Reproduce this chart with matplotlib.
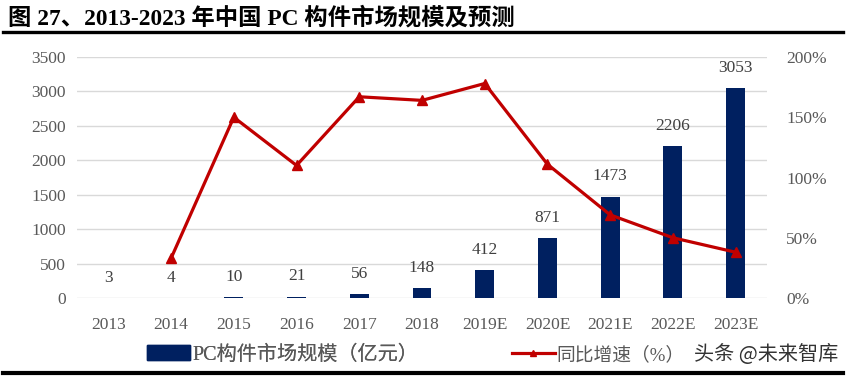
import numpy as np
import matplotlib.pyplot as plt
from matplotlib.lines import Line2D

plt.rcParams['font.family'] = ['Liberation Serif', 'Noto Sans CJK SC', 'DejaVu Sans']

# 数据
years = ['2013', '2014', '2015', '2016', '2017', '2018', '2019E', '2020E', '2021E', '2022E', '2023E']
scale = [3, 4, 10, 21, 56, 148, 412, 871, 1473, 2206, 3053]  # 亿元
growth = [None, 33, 150, 110, 167, 164, 178, 111, 69, 50, 38]  # %

navy = '#002060'
red = '#C00000'
gray = '#595959'

fig = plt.figure(figsize=(8.46, 3.76), dpi=100)
ax = fig.add_axes([0.091, 0.2074, 0.8156, 0.641])
x = np.arange(len(years))

ax.bar(x, scale, width=0.3, color=navy, zorder=2)
for xi, v in zip(x, scale):
    ax.annotate(str(v), (xi, v), xytext=(0, 14.5), textcoords='offset points',
                ha='center', va='center', fontsize=12.5, color='#404040')

ax.set_ylim(0, 3500)
ax.set_yticks(np.arange(0, 3501, 500))
ax.set_xlim(-0.5, len(years) - 0.5)
ax.set_xticks(x)
ax.set_xticklabels(years)
ax.grid(axis='y', color='#D9D9D9', linewidth=1, zorder=0)
for s in ax.spines.values():
    s.set_visible(False)
ax.tick_params(axis='both', length=0, labelsize=12.5, colors=gray)
ax.tick_params(axis='x', pad=14)
ax.tick_params(axis='y', pad=8)

ax2 = ax.twinx()
gx = [xi for xi, g in zip(x, growth) if g is not None]
gy = [g for g in growth if g is not None]
ax2.plot(gx, gy, color=red, linewidth=2.3, marker='^', markersize=7, zorder=3)
ax2.set_ylim(0, 200)
ax2.set_yticks(np.arange(0, 201, 50))
ax2.set_yticklabels([f'{v}%' for v in range(0, 201, 50)])
for s in ax2.spines.values():
    s.set_visible(False)
ax2.tick_params(axis='y', length=0, labelsize=12.5, colors=gray, pad=14)

# 图例（分两个放置）
leg_kw = dict(loc='center left', frameon=False, borderpad=0,
              borderaxespad=0, handletextpad=0.1)
leg1 = fig.legend([plt.Rectangle((0, 0), 1, 1, color=navy)], ['PC构件市场规模（亿元）'],
                  bbox_to_anchor=(0.1738, 0.056), fontsize=14.5, handlelength=2.15, **leg_kw)
leg2 = fig.legend([Line2D([0], [0], color=red, linewidth=2.3, marker='^', markersize=5)],
                  ['同比增速（%）'], bbox_to_anchor=(0.605, 0.056), fontsize=13.5,
                  handlelength=2.3, **leg_kw)
for lg in (leg1, leg2):
    for t in lg.get_texts():
        t.set_color(gray)
fig.add_artist(leg1)

# 标题
fig.text(0.009, 0.953, '图 27、2013-2023 年中国 PC 构件市场规模及预测', fontsize=16.8,
         fontweight='bold', va='center', ha='left', color='black')
fig.add_artist(Line2D([0.004, 0.996], [0.9136, 0.9136], color='black', linewidth=2.4))
fig.add_artist(Line2D([0.004, 0.996], [0.008, 0.008], color='black', linewidth=3))

# 水印
fig.text(0.991, 0.058, '头条 @未来智库', fontsize=14.5, ha='right', va='center',
         color='#333333', family=['Noto Sans CJK SC', 'DejaVu Sans'])

fig.savefig('out.png', dpi=100)
